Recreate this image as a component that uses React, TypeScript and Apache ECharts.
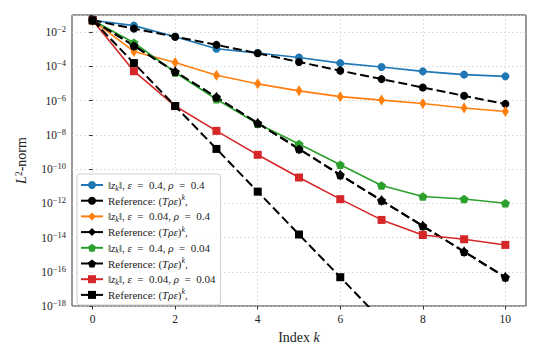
import React, { useEffect, useRef } from "react";
import * as echarts from "echarts";

const K = [0, 1, 2, 3, 4, 5, 6, 7, 8, 9, 10];
const X_TICKS = [0, 2, 4, 6, 8, 10];

// eps=0.4, rho=0.4
const normA = [4.9e-2, 2.4e-2, 5.4e-3, 1.07e-3, 6.0e-4, 3.3e-4, 1.55e-4, 9.1e-5, 5.1e-5, 3.3e-5, 2.6e-5];
const refA = [4.9e-2, 1.6e-2, 5.4e-3, 1.8e-3, 5.8e-4, 1.8e-4, 5.6e-5, 1.8e-5, 5.8e-6, 1.9e-6, 6.4e-7];
// eps=0.04, rho=0.4
const normB = [4.9e-2, 7.4e-4, 1.7e-4, 3.0e-5, 9.5e-6, 3.7e-6, 1.7e-6, 1.07e-6, 6.8e-7, 3.7e-7, 2.3e-7];
const refB = [4.9e-2, 1.6e-3, 4.9e-5, 1.55e-6, 4.8e-8, 1.5e-9, 4.5e-11, 1.45e-12, 4.7e-14, 1.5e-15, 4.8e-17];
// eps=0.4, rho=0.04
const normC = [4.9e-2, 2.4e-3, 4.4e-5, 1.2e-6, 4.4e-8, 2.9e-9, 1.8e-10, 1.1e-11, 2.5e-12, 1.8e-12, 1.0e-12];
const refC = [4.9e-2, 1.6e-3, 4.9e-5, 1.55e-6, 4.8e-8, 1.5e-9, 4.5e-11, 1.45e-12, 4.7e-14, 1.5e-15, 4.8e-17];
// eps=0.04, rho=0.04
const normD = [4.9e-2, 5.2e-5, 4.8e-7, 1.7e-8, 6.8e-10, 3.2e-11, 1.75e-12, 1.07e-13, 1.4e-14, 7.9e-15, 3.7e-15];
const refD = [4.9e-2, 1.55e-4, 4.8e-7, 1.5e-9, 4.8e-12, 1.5e-14, 4.8e-17, 1.5e-19, 4.8e-22, 1.5e-24, 4.8e-27];

const EQ = "\u2002=\u2002";
const LEGEND_TEXT: Record<string, string> = {
  zA: "‖{i|z}{sb|k}‖, {i|ε}" + EQ + "0.4, {i|ρ}" + EQ + "0.4",
  rA: "Reference: ({i|Tρε}){sp|k},",
  zB: "‖{i|z}{sb|k}‖, {i|ε}" + EQ + "0.04, {i|ρ}" + EQ + "0.4",
  rB: "Reference: ({i|Tρε}){sp|k},",
  zC: "‖{i|z}{sb|k}‖, {i|ε}" + EQ + "0.4, {i|ρ}" + EQ + "0.04",
  rC: "Reference: ({i|Tρε}){sp|k},",
  zD: "‖{i|z}{sb|k}‖, {i|ε}" + EQ + "0.04, {i|ρ}" + EQ + "0.04",
  rD: "Reference: ({i|Tρε}){sp|k},",
};

const FONT = "Liberation Serif";
const PENTAGON = "path://M0,-1L0.951,-0.309L0.588,0.809L-0.588,0.809L-0.951,-0.309Z";

function mk(name: string, vals: number[], color: string, symbol: string, size: any, dashed: boolean) {
  return {
    name,
    type: "line",
    data: K.map((k, i) => [k, vals[i]]),
    symbol,
    symbolSize: size,
    showSymbol: true,
    clip: true,
    lineStyle: { color, width: dashed ? 2 : 1.6, type: dashed ? [9, 4] : "solid" },
    itemStyle: { color, borderWidth: 0 },
    emphasis: { disabled: true },
  };
}

export default function App() {
  const ref = useRef<HTMLDivElement>(null);
  useEffect(() => {
    if (!ref.current) return;
    const chart = echarts.init(ref.current, undefined, { renderer: "svg" });
    const richBase = {
      i: { fontFamily: FONT, fontStyle: "italic", fontSize: 11, lineHeight: 14, color: "#222" },
      sb: { fontFamily: FONT, fontStyle: "italic", fontSize: 8, lineHeight: 8, verticalAlign: "bottom", color: "#222" },
      sp: { fontFamily: FONT, fontStyle: "italic", fontSize: 8, lineHeight: 8, verticalAlign: "top", color: "#222" },
    };
    chart.setOption({
      animation: false,
      backgroundColor: "#fff",
      textStyle: { fontFamily: FONT },
      grid: {
        left: 72,
        right: 14,
        top: 15,
        bottom: 54,
        show: true,
        borderColor: "#333",
        borderWidth: 1,
        backgroundColor: "transparent",
      },
      legend: {
        left: 77,
        top: 174,
        orient: "vertical",
        itemWidth: 22,
        itemHeight: 10,
        itemGap: 1.7,
        padding: [4, 5, 3, 3],
        backgroundColor: "rgba(255,255,255,0.85)",
        borderColor: "#cfcfcf",
        borderWidth: 1,
        borderRadius: 3,
        lineStyle: { type: "solid" },
        textStyle: {
          fontFamily: FONT,
          fontSize: 11,
          color: "#222",
          lineHeight: 14,
          rich: richBase,
        },
        formatter: (n: string) => LEGEND_TEXT[n] || n,
        data: ["zA", "rA", "zB", "rB", "zC", "rC", "zD", "rD"],
      },
      xAxis: {
        type: "value",
        min: -0.5,
        max: 10.5,
        name: "Index {i|k}",
        nameLocation: "middle",
        nameGap: 24,
        nameTextStyle: {
          fontFamily: FONT,
          fontSize: 14,
          color: "#222",
          rich: { i: { fontFamily: FONT, fontStyle: "italic", fontSize: 14, color: "#222" } },
        },
        axisLine: { show: false },
        axisTick: { show: true, length: 3.5, inside: false, customValues: X_TICKS, lineStyle: { color: "#333" } },
        axisLabel: {
          customValues: X_TICKS,
          fontFamily: FONT,
          fontSize: 11.5,
          color: "#222",
          margin: 7,
        },
        splitLine: { show: true, lineStyle: { color: "#cccccc", type: [1.5, 2.5], width: 0.8 } },
      },
      yAxis: {
        type: "log",
        logBase: 10,
        min: 1e-18,
        max: 1e-1,
        interval: 2,
        name: "{i|L}{sp|2}-norm",
        nameLocation: "middle",
        nameRotate: 90,
        nameGap: 44,
        nameTextStyle: {
          fontFamily: FONT,
          fontSize: 14,
          color: "#222",
          rich: {
            i: { fontFamily: FONT, fontStyle: "italic", fontSize: 14, color: "#222" },
            sp: { fontFamily: FONT, fontSize: 9.5, lineHeight: 10, verticalAlign: "top", color: "#222" },
          },
        },
        axisLine: { show: false },
        axisTick: { show: true, length: 3.5, lineStyle: { color: "#333" } },
        axisLabel: {
          fontFamily: FONT,
          fontSize: 11.5,
          color: "#222",
          margin: 6,
          formatter: (v: number) => {
            const e = Math.round(Math.log10(v));
            if (e % 2 !== 0 || e > -2) return "";
            return "{b|10}{s|−" + Math.abs(e) + "}";
          },
          rich: {
            b: { fontFamily: FONT, fontSize: 11.5, lineHeight: 15, color: "#222" },
            s: { fontFamily: FONT, fontSize: 8.5, lineHeight: 9, verticalAlign: "top", color: "#222" },
          },
        },
        splitLine: { show: true, lineStyle: { color: "#cccccc", type: [1.5, 2.5], width: 0.8 } },
        minorTick: { show: false },
      },
      series: [
        mk("zA", normA, "#1f77b4", "circle", 8, false),
        mk("rA", refA, "#000000", "circle", 8, true),
        mk("zB", normB, "#ff7f0e", "diamond", [7, 11], false),
        mk("rB", refB, "#000000", "diamond", [7, 11], true),
        mk("zC", normC, "#2ca02c", PENTAGON, [9, 8.5], false),
        mk("rC", refC, "#000000", PENTAGON, [9, 8.5], true),
        mk("zD", normD, "#d62728", "rect", 8, false),
        mk("rD", refD, "#000000", "rect", 8, true),
      ],
    });
    return () => chart.dispose();
  }, []);
  return <div ref={ref} style={{ width: 540, height: 360, margin: -8 }} />;
}
